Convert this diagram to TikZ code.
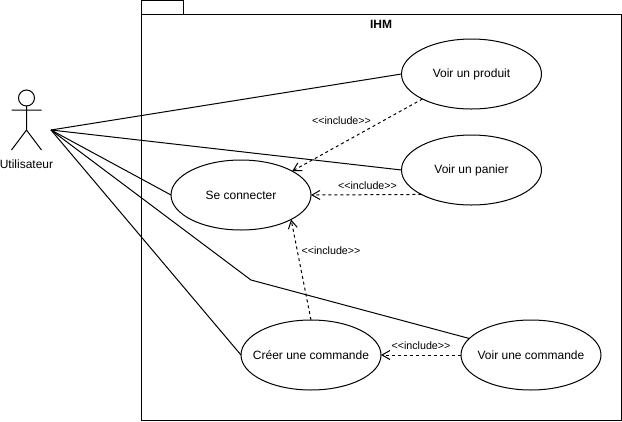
\documentclass[tikz,border=0pt]{standalone}
\usepackage{fontspec}
\setmainfont{Liberation Sans}
\usetikzlibrary{shapes.geometric,arrows.meta}
\newcommand{\inclabel}{<{}<include>{}>}
\tikzset{
  usecase/.style={draw=black,ellipse,line width=1pt,minimum width=140pt,minimum height=70pt,inner xsep=-30pt,inner ysep=0pt,outer sep=0pt,font=\fontsize{12}{14}\selectfont,fill=white},
  assoc/.style={draw=black,line width=1pt},
  incl/.style={draw=black,line width=1pt,dash pattern=on 3pt off 3pt,-{Straight Barb[length=8pt,width=9pt,line width=1pt]}},
  incllabel/.style={font=\fontsize{10.7}{12}\selectfont,inner sep=0pt,text=black},
  pkg/.style={draw=black,line width=1pt},
}
\begin{document}
\begin{tikzpicture}[x=1pt,y=-1pt]
\useasboundingbox (0,0) rectangle (622,421);
% package
\draw[pkg] (141.5,0.5) rectangle (183.5,14.5);
\draw[pkg] (141.5,14.5) rectangle (621,420);
\node[font=\bfseries\fontsize{12}{14}\selectfont,inner sep=0pt] (ihm) at (381,24) {IHM};
\coordinate (actorhand) at (51,130);
% use cases
\node[usecase] (produit) at (471.5,74) {Voir un produit};
\node[usecase] (panier) at (471.5,170) {Voir un panier};
\node[usecase] (connecter) at (241,195) {Se connecter};
\node[usecase] (creer) at (311,355) {Créer une commande};
\node[usecase] (voircmd) at (531,355) {Voir une commande};
% associations
\draw[assoc] (actorhand) -- (produit.west);
\draw[assoc] (actorhand) -- (panier.west);
\draw[assoc] (actorhand) -- (connecter.west);
\draw[assoc] (actorhand) -- (creer.west);
\coordinate (bend) at (251,280);
\draw[assoc] (actorhand) -- (bend) -- (voircmd.165.5);
% includes
\draw[incl] (produit.207.2) -- (connecter.25.6);
\draw[incl] (panier.206.3) -- (connecter.east);
\draw[incl] (creer.north) -- (connecter.-26.6);
\draw[incl] (voircmd.west) -- (creer.east);
\node[incllabel] (l1) at (341.5,121) {\inclabel};
\node[incllabel] (l2) at (367.5,186) {\inclabel};
\node[incllabel] (l3) at (331,251) {\inclabel};
\node[incllabel] (l4) at (421,346) {\inclabel};
% actor
\draw[assoc] (26.5,98) circle (8);
\draw[assoc] (26.5,106) -- (26.5,130) (11.5,110) -- (41.5,110) (11.5,150) -- (26.5,130) -- (41.5,150);
\node[font=\fontsize{12}{14}\selectfont,inner sep=0pt] (actor) at (26.5,164) {Utilisateur};
\end{tikzpicture}
\end{document}
